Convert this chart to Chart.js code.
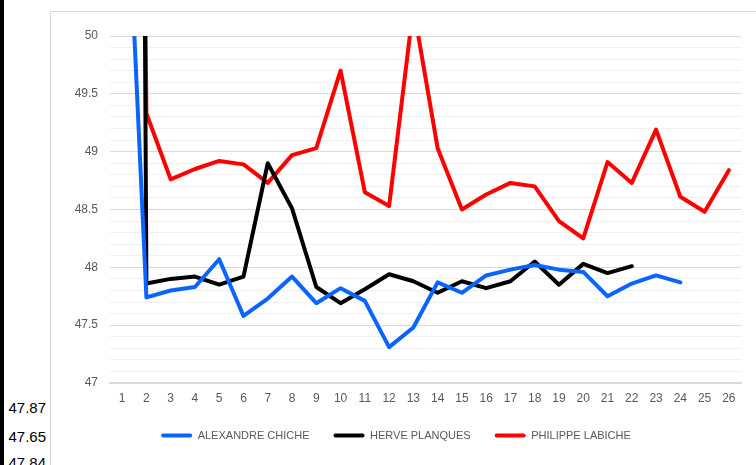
<!doctype html>
<html>
  <head>
    <script src="https://cdn.jsdelivr.net/npm/chart.js@4.4.1/dist/chart.umd.min.js"></script>
    <style>
      body{margin:0;background:#fff;width:756px;height:465px;overflow:hidden;position:relative;font-family:'Liberation Sans',Arial,sans-serif}
      #edge{position:absolute;left:0;top:0;width:4px;height:465px;background:#000}
      #box{position:absolute;left:50px;top:11px;width:720px;height:470px;border:1px solid #d9d9d9;box-sizing:border-box}
      .cell{position:absolute;right:710px;font-size:15px;color:#000;line-height:18px}
      #c1{position:absolute;left:51px;top:12px}
    </style>
    <script>
      // categories 1..26
      let days=["1","2","3","4","5","6","7","8","9","10","11","12","13","14","15","16","17","18","19","20","21","22","23","24","25","26"];
      let alexandre=[52.3,47.74,47.80,47.83,48.07,47.58,47.73,47.92,47.69,47.82,47.71,47.31,47.48,47.87,47.78,47.93,47.98,48.02,47.98,47.96,47.75,47.86,47.93,47.87,null,null];
      let herve=[85,47.86,47.90,47.92,47.85,47.92,48.90,48.51,47.83,47.69,47.81,47.94,47.88,47.78,47.88,47.82,47.88,48.05,47.85,48.03,47.95,48.01,null,null,null,null];
      let philippe=[70,49.33,48.76,48.85,48.92,48.89,48.73,48.97,49.03,49.70,48.65,48.53,50.25,49.03,48.50,48.63,48.73,48.70,48.40,48.25,48.91,48.73,49.19,48.61,48.48,48.84];
      let cellValues=["47.87","47.65","47.84"];

      let chart1;
      function isMajor(v){return Math.abs(v*2-Math.round(v*2))<1e-6;}
      function startPage(){
        let cellTops=[399,428,454];
        for(let i=0;i<cellValues.length;i++){
          let d=document.createElement("div");
          d.className="cell";d.style.top=cellTops[i]+"px";d.innerText=cellValues[i];
          document.body.appendChild(d);
        }
        let mk=function(label,data,color){
          return {label:label,data:data,borderColor:color,backgroundColor:color,borderWidth:4,
            pointRadius:0,tension:0,borderJoinStyle:'round',borderCapStyle:'round'};
        };
        chart1=new Chart(document.getElementById("c1"),{
          type:'line',
          data:{
            labels:days,
            datasets:[mk('ALEXANDRE CHICHE',alexandre,'#0a64ff'),mk('HERVE PLANQUES',herve,'#000000'),mk('PHILIPPE LABICHE',philippe,'#ff0000')]
          },
          options:{
            responsive:false,animation:false,
            layout:{padding:{left:0,top:24,right:15,bottom:14}},
            plugins:{
              tooltip:{enabled:false},
              legend:{position:'bottom',
                labels:{boxWidth:31,boxHeight:4,padding:24,color:'#595959',useBorderRadius:true,borderRadius:2,
                  font:{family:"'Liberation Sans',Arial",size:11},
                  generateLabels:function(ch){
                    return ch.data.datasets.map(function(ds,i){
                      return {text:ds.label,fillStyle:ds.borderColor,strokeStyle:ds.borderColor,lineWidth:0,
                        fontColor:'#595959',borderRadius:2,datasetIndex:i,hidden:false};
                    });
                  }}}
            },
            scales:{
              x:{offset:true,
                grid:{display:false,drawTicks:false},
                border:{color:'#d9d9d9',width:2},
                ticks:{color:'#595959',padding:8,maxRotation:0,autoSkip:false,font:{family:"'Liberation Sans',Arial",size:12}},
                afterFit:function(s){s.height=23;}},
              y:{min:47,max:50,
                border:{display:false},
                grid:{drawTicks:false,color:function(c){return isMajor(c.tick.value)?'#d9d9d9':'#f0f0f0';}},
                ticks:{stepSize:0.1,autoSkip:false,padding:12,color:'#595959',font:{family:"'Liberation Sans',Arial",size:12},
                  callback:function(v){return isMajor(v)?String(Math.round(v*10)/10):'';}},
                afterFit:function(s){s.width=59;}}
            }
          }
        });
      }
    </script>
  </head>
  <body onload="startPage()">
    <div id="edge"></div>
    <div id="box"></div>
    <canvas id="c1" width="705" height="453"></canvas>
  </body>
</html>
